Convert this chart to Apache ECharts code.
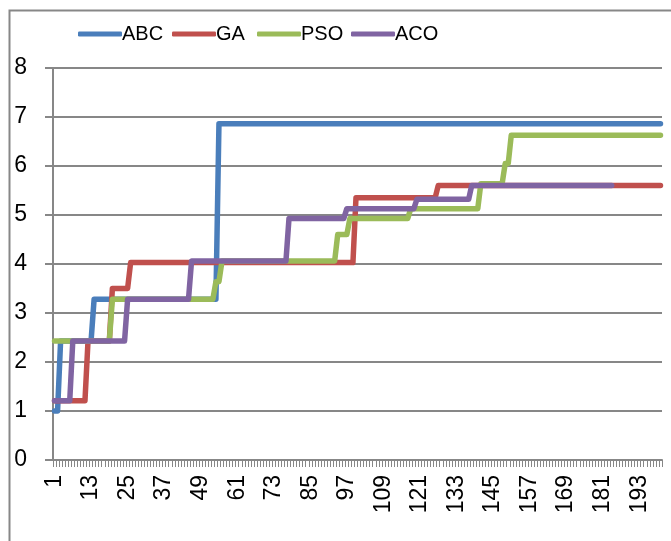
<!DOCTYPE html>
<html>
<head>
<meta charset="utf-8">
<script src="https://cdn.jsdelivr.net/npm/echarts@6/dist/echarts.min.js"></script>
<style>
  html, body { margin: 0; padding: 0; background: #ffffff; }
  #chart { width: 671px; height: 541px; }
</style>
</head>
<body>
<div id="chart"></div>
<script>
// Iteration numbers along the x axis
const iterations = Array.from({ length: 200 }, (_, i) => String(i + 1));

// Best value found per algorithm, stored as [first iteration, value] runs
const abcRuns = [[1, 1.0], [3, 2.43], [14, 3.28], [55, 6.86]];
const gaRuns  = [[1, 1.21], [12, 2.43], [20, 3.5], [26, 4.03], [100, 5.35], [127, 5.6]];
const psoRuns = [[1, 2.43], [20, 3.28], [54, 3.64], [56, 4.06], [94, 4.6], [98, 4.93],
                 [118, 5.13], [141, 5.64], [149, 6.05], [151, 6.63]];
const acoRuns = [[1, 1.21], [7, 2.43], [25, 3.28], [46, 4.06], [78, 4.93], [97, 5.13],
                 [120, 5.32], [138, 5.6]];

// Number of iterations each algorithm ran
const abcLength = 200;
const gaLength  = 200;
const psoLength = 200;
const acoLength = 184;

const yTicks = [0, 1, 2, 3, 4, 5, 6, 7, 8];

function expandRuns(runs, length) {
  const out = [];
  let r = 0;
  for (let it = 1; it <= length; it++) {
    while (r + 1 < runs.length && runs[r + 1][0] <= it) r++;
    out.push(runs[r][1]);
  }
  return out;
}

const font = "'Liberation Sans', 'DejaVu Sans', sans-serif";
const gray = '#878787';

const seriesDefs = [
  { name: 'ABC', color: '#4a7ebb', data: expandRuns(abcRuns, abcLength) },
  { name: 'GA',  color: '#c0504d', data: expandRuns(gaRuns, gaLength) },
  { name: 'PSO', color: '#9bbb59', data: expandRuns(psoRuns, psoLength) },
  { name: 'ACO', color: '#8064a2', data: expandRuns(acoRuns, acoLength) }
];

// one legend block per series so each key sits at its own spot
const legendLefts = [73, 167, 252, 346];

const chart = echarts.init(document.getElementById('chart'), null, { renderer: 'canvas' });

chart.setOption({
  animation: false,
  backgroundColor: '#ffffff',
  textStyle: { fontFamily: font },
  graphic: [{
    type: 'rect',
    shape: { x: 9.5, y: 10.5, width: 720, height: 600 },
    style: { fill: 'none', stroke: gray, lineWidth: 2 },
    silent: true,
    z: -1
  }],
  legend: seriesDefs.map((s, i) => ({
    left: legendLefts[i],
    top: 19,
    itemWidth: 44,
    itemHeight: 5,
    icon: 'roundRect',
    textStyle: { fontFamily: font, fontSize: 20, color: '#000000', padding: [0, 0, 0, -5] },
    data: [s.name]
  })),
  grid: { left: 53, right: 9, top: 68, bottom: 81, containLabel: false },
  xAxis: {
    type: 'category',
    data: iterations,
    boundaryGap: true,
    axisLine: { lineStyle: { color: gray, width: 2 } },
    axisTick: { show: true, interval: 0, length: 7, lineStyle: { color: gray, width: 1 } },
    axisLabel: {
      interval: 11,
      rotate: 90,
      margin: 15,
      fontFamily: font,
      fontSize: 23,
      color: '#000000'
    },
    splitLine: { show: false }
  },
  yAxis: {
    type: 'value',
    min: yTicks[0],
    max: yTicks[yTicks.length - 1],
    interval: 1,
    axisLine: { show: true, lineStyle: { color: gray, width: 2 } },
    axisTick: { show: true, length: 8, lineStyle: { color: gray, width: 2 } },
    axisLabel: { margin: 26, fontFamily: font, fontSize: 23, color: '#000000' },
    splitLine: { show: true, lineStyle: { color: gray, width: 2 } }
  },
  series: seriesDefs.map(s => ({
    name: s.name,
    type: 'line',
    data: s.data,
    symbol: 'none',
    color: s.color,
    lineStyle: { color: s.color, width: 5.5, cap: 'round', join: 'round' },
    itemStyle: { color: s.color }
  }))
});
</script>
</body>
</html>
